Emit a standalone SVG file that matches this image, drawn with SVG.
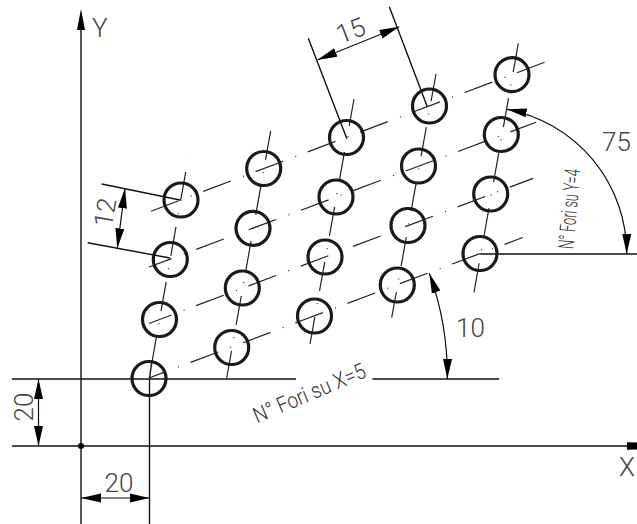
<svg xmlns="http://www.w3.org/2000/svg" width="637" height="524" viewBox="0 0 637 524">
<style>
.hole{fill:none;stroke:#1a1a1a;stroke-width:3.2}
.ln{fill:none;stroke:#111;stroke-width:1.4}
.cl{fill:none;stroke:#222;stroke-width:1.2;stroke-dasharray:29.5 13 1 12.4}
.dim{fill:none;stroke:#111;stroke-width:1.2;marker-start:url(#ah);marker-end:url(#ah)}
.t{font-family:Roboto,"Liberation Sans",Arial,sans-serif;font-weight:300;font-size:26px;fill:#444}
.s{font-size:22px;fill:#333}
</style>
<defs>
<marker id="ah" markerUnits="userSpaceOnUse" markerWidth="21" markerHeight="11" refX="20" refY="5" orient="auto-start-reverse"><path d="M0,0.5 L20,5 L0,9.500 Z" fill="#000"/></marker>
</defs>
<rect width="637" height="524" fill="#fff"/>
<g id="connectors">
<line class="ln" x1="81" y1="524" x2="81" y2="28"/>
<line class="ln" x1="12" y1="446" x2="630" y2="446"/>
<path d="M81,9 L85,30 L77,30 Z M637,442.500 L627,442.300 L627,449.700 L637,449.500 Z"/>
<circle cx="81" cy="446" r="3" fill="#000"/>
<path class="ln" d="M12,379 H296 M372.500,379 H499 M149.500,379 V524 M480,254 H637"/>
<path class="ln" d="M101.700,184 L180,200 M87.700,242.700 L170,258 M308.300,38.300 L346.700,138.300 M389.300,6.700 L427.300,106.700"/>
<line class="dim" x1="38.500" y1="379" x2="38.500" y2="446"/>
<line class="dim" x1="81" y1="498" x2="149.500" y2="498"/>
<line class="dim" x1="125" y1="188.300" x2="117.300" y2="248.300"/>
<line class="dim" x1="317.300" y1="60" x2="399.300" y2="26.700"/>
<path class="dim" d="M506.700,109.300 A146.500,146.500 0 0 1 626.700,254"/>
<path class="dim" d="M429.300,273.300 A298.500,298.500 0 0 1 447.300,379"/>
<path class="ln" d="M149.500,378 L152,360"/>
<line class="cl" stroke-dashoffset="11.500" x1="149" y1="378" x2="522.700" y2="237.500"/>
<line class="cl" stroke-dashoffset="5.500" x1="149" y1="323.500" x2="533" y2="178.400"/>
<line class="cl" stroke-dashoffset="5.500" x1="149" y1="267" x2="536" y2="122.300"/>
<line class="cl" x1="151" y1="211.200" x2="548" y2="61"/>
<line class="cl" x1="151.300" y1="366" x2="188" y2="159"/>
<line class="cl" stroke-dashoffset="2" x1="226.700" y1="378" x2="270.700" y2="130.700"/>
<line class="cl" stroke-dashoffset="2" x1="310" y1="344" x2="354" y2="99"/>
<line class="cl" stroke-dashoffset="3.500" x1="391.700" y1="317.700" x2="436" y2="74"/>
<line class="cl" x1="474" y1="292.300" x2="518.300" y2="43.300"/>
</g>
<g id="holes">
<g id="hole-0-0"><circle class="hole" cx="149" cy="378.500" r="17"/></g>
<g id="hole-1-0"><circle class="hole" cx="231.700" cy="347.500" r="17"/></g>
<g id="hole-2-0"><circle class="hole" cx="314.500" cy="316" r="17"/></g>
<g id="hole-3-0"><circle class="hole" cx="397.300" cy="285" r="17"/></g>
<g id="hole-4-0"><circle class="hole" cx="480" cy="253.500" r="17"/></g>
<g id="hole-0-1"><circle class="hole" cx="159.500" cy="319.500" r="17"/></g>
<g id="hole-1-1"><circle class="hole" cx="242.300" cy="288" r="17"/></g>
<g id="hole-2-1"><circle class="hole" cx="325" cy="257" r="17"/></g>
<g id="hole-3-1"><circle class="hole" cx="408" cy="225.500" r="17"/></g>
<g id="hole-4-1"><circle class="hole" cx="490.700" cy="194" r="17"/></g>
<g id="hole-0-2"><circle class="hole" cx="170.300" cy="259.500" r="17"/></g>
<g id="hole-1-2"><circle class="hole" cx="253" cy="228.300" r="17"/></g>
<g id="hole-2-2"><circle class="hole" cx="336" cy="197" r="17"/></g>
<g id="hole-3-2"><circle class="hole" cx="418.500" cy="166" r="17"/></g>
<g id="hole-4-2"><circle class="hole" cx="501.300" cy="134.500" r="17"/></g>
<g id="hole-0-3"><circle class="hole" cx="181" cy="200" r="17"/></g>
<g id="hole-1-3"><circle class="hole" cx="263.700" cy="168.500" r="17"/></g>
<g id="hole-2-3"><circle class="hole" cx="346.500" cy="137.500" r="17"/></g>
<g id="hole-3-3"><circle class="hole" cx="429.500" cy="106" r="17"/></g>
<g id="hole-4-3"><circle class="hole" cx="512" cy="74.700" r="17"/></g>
</g>
<g id="labels">
<text class="t" x="92" y="37">Y</text>
<text class="t" x="619" y="476">X</text>
<text class="t" text-anchor="middle" transform="translate(33,407) rotate(-90)">20</text>
<text class="t" text-anchor="middle" x="119" y="492">20</text>
<text class="t" text-anchor="middle" transform="translate(114,214) rotate(-80)">12</text>
<text class="t" text-anchor="middle" transform="translate(354,39) rotate(-21)">15</text>
<text class="t" x="602" y="151">75</text>
<text class="t" x="456" y="337">10</text>
<text class="t s" transform="translate(573.500,249.500) rotate(-85)" textLength="80" lengthAdjust="spacingAndGlyphs">N° Fori su Y=4</text>
<text class="t s" transform="translate(257,423.500) rotate(-23)" textLength="120" lengthAdjust="spacingAndGlyphs">N° Fori su X=5</text>
</g>
</svg>
